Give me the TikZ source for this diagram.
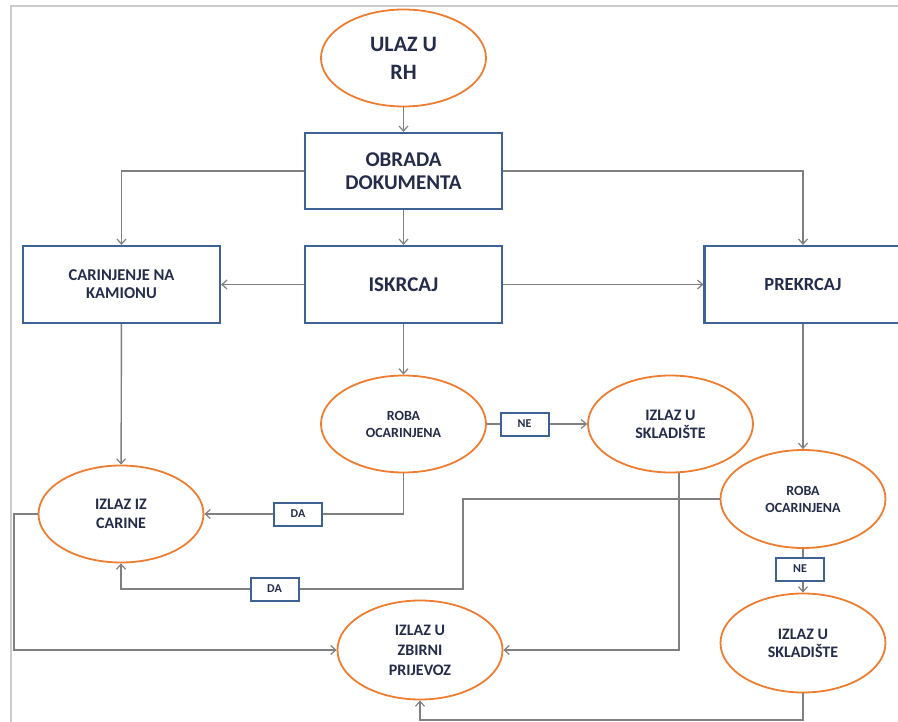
\documentclass[tikz,border=0pt]{standalone}
\usepackage{fontspec}
\setmainfont{Carlito}
\usetikzlibrary{shapes.geometric,arrows.meta}
\definecolor{ocol}{RGB}{237,125,49}
\definecolor{bcol}{RGB}{62,98,148}
\definecolor{gcol}{RGB}{128,128,128}
\definecolor{tcol}{RGB}{36,44,74}
\begin{document}
\begin{tikzpicture}[x=1pt,y=-1pt,
  oval/.style={ellipse,draw=ocol,line width=1.8pt,fill=white,inner sep=0pt,
    minimum width=165pt,minimum height=97pt,align=center,text=tcol},
  box/.style={rectangle,draw=bcol,line width=2.2pt,fill=white,inner sep=0pt,
    minimum width=197pt,minimum height=77pt,align=center,text=tcol},
  tag/.style={rectangle,draw=bcol,line width=2pt,fill=white,inner sep=0pt,
    minimum width=48pt,minimum height=23pt,text=tcol,font=\bfseries\fontsize{12}{14}\selectfont},
  conn/.style={draw=gcol,line width=1.4pt},
  arr/.style={conn,-{Straight Barb[length=5pt,width=9pt,line width=1.2pt]}}
]
\useasboundingbox (0,0) rectangle (898,722);
\draw[gray!40,line width=2pt] (11,722) -- (11,6) -- (898,6);

% nodes
\node[oval,font=\bfseries\fontsize{22}{28}\selectfont] (ulaz) at (403.5,58) {ULAZ U\\RH};
\node[box,minimum height=76pt,font=\bfseries\fontsize{21}{23}\selectfont] (obrada) at (403.5,171) {OBRADA\\DOKUMENTA};
\node[box,font=\bfseries\fontsize{16.5}{18}\selectfont] (carinj) at (121.5,284.5) {CARINJENJE NA\\KAMIONU};
\node[box,font=\bfseries\fontsize{21}{24}\selectfont] (iskrcaj) at (403.5,284.5) {ISKRCAJ};
\node[box,font=\bfseries\fontsize{18.5}{20}\selectfont] (prekrcaj) at (803,284.5) {PREKRCAJ};
\node[oval,font=\bfseries\fontsize{14}{17}\selectfont] (roba1) at (403.5,424) {ROBA\\OCARINJENA};
\node[tag] (ne1) at (524.5,424) {NE};
\node[oval,font=\bfseries\fontsize{16}{18}\selectfont] (skl1) at (670.5,424) {IZLAZ U\\SKLADIŠTE};
\node[oval,minimum height=98pt,font=\bfseries\fontsize{14}{17}\selectfont] (roba2) at (803,499) {ROBA\\OCARINJENA};
\node[oval,font=\bfseries\fontsize{16}{19}\selectfont] (carine) at (121,514) {IZLAZ IZ\\CARINE};
\node[tag] (da1) at (298,514) {DA};
\node[tag] (da2) at (274.5,589) {DA};
\node[tag] (ne2) at (800,569) {NE};
\node[oval,minimum height=99pt,font=\bfseries\fontsize{16}{20}\selectfont] (zbirni) at (420,650) {IZLAZ U\\ZBIRNI\\PRIJEVOZ};
\node[oval,minimum height=99pt,font=\bfseries\fontsize{16}{18}\selectfont] (skl2) at (803,643) {IZLAZ U\\SKLADIŠTE};

\coordinate (kn) at (463,499);
\coordinate (cl) at (14,514);
\coordinate (cb) at (803,720);

% connectors
\draw[arr] (ulaz) -- (obrada);
\draw[arr] (obrada.west) -| (carinj.north);
\draw[arr] (obrada.east) -| (prekrcaj.north);
\draw[arr] (obrada) -- (iskrcaj);
\draw[arr] (iskrcaj) -- (carinj);
\draw[arr] (iskrcaj) -- (prekrcaj);
\draw[arr] (carinj) -- (carine);
\draw[arr] (iskrcaj) -- (roba1);
\draw[conn] (roba1) -- (ne1);
\draw[arr] (ne1) -- (skl1);
\draw[conn] (roba1.south) |- (da1.east);
\draw[arr] (da1) -- (carine);
\draw[arr] (prekrcaj.south) -- (roba2.north);
\draw[conn] (roba2.west) -- (kn) |- (da2.east);
\draw[arr] (da2.west) -| (carine.south);
\draw[conn] (roba2.south) -- (roba2.south |- ne2.north);
\draw[arr] (roba2.south |- ne2.south) -- (skl2.north);
\draw[arr] (skl1.-80) |- (zbirni.east);
\draw[arr] (carine.west) -- (cl) |- (zbirni.west);
\draw[arr] (skl2.south) -- (cb) -| (zbirni.south);
\end{tikzpicture}
\end{document}
